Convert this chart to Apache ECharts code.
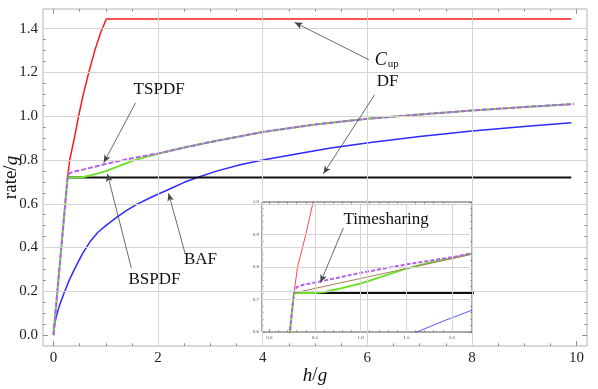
<!DOCTYPE html>
<html>
<head>
<meta charset="utf-8">
<script src="https://cdn.jsdelivr.net/npm/echarts@6/dist/echarts.min.js"></script>
<style>
  html, body { margin: 0; padding: 0; background: #fff; }
  #chart { width: 598px; height: 389px; }
</style>
</head>
<body>
<div id="chart"></div>
<script>
// curves, [h/g, rate/g]
const cupPts = [[0.27, 0.72], [0.31, 0.8], [0.4, 0.9], [0.48, 1.0], [0.57, 1.1], [0.675, 1.2], [0.79, 1.3], [0.9, 1.38], [1.01, 1.444], [9.9, 1.444]];
const bafPts = [[0, 0], [0.02, 0.045], [0.05, 0.08], [0.09, 0.115], [0.13, 0.145], [0.2, 0.19], [0.3, 0.25], [0.4, 0.3], [0.55, 0.37], [0.71, 0.43], [0.85, 0.47], [1.0, 0.5], [1.22, 0.54], [1.4, 0.57], [1.6, 0.598], [1.9, 0.633], [2.2, 0.665], [2.5, 0.698], [2.75, 0.72], [3.1, 0.748], [3.57, 0.778], [4.0, 0.8], [4.7, 0.83], [5.3, 0.855], [6.06, 0.88], [7.0, 0.907], [8.0, 0.933], [9.0, 0.953], [9.9, 0.97]];
const dfPts = [[0.27, 0.72], [9.9, 0.72]];
const bspdfPts = [[0, 0], [0.27, 0.72], [0.5, 0.72], [0.6, 0.723], [0.75, 0.732], [1.0, 0.749], [1.25, 0.772], [1.5, 0.795], [1.75, 0.813], [2.0, 0.828], [2.2, 0.84], [2.5, 0.857], [3.0, 0.882], [3.5, 0.905], [4.0, 0.928], [5.0, 0.962], [6.0, 0.988], [7.0, 1.008], [8.0, 1.026], [9.0, 1.042], [9.9, 1.055]];
const tspdfPts = [[0, 0], [0.27, 0.72], [0.3, 0.738], [0.38, 0.746], [0.5, 0.752], [0.75, 0.767], [1.0, 0.782], [1.5, 0.808], [2.0, 0.83], [2.5, 0.857], [3.0, 0.882], [3.5, 0.905], [4.0, 0.928], [5.0, 0.962], [6.0, 0.988], [7.0, 1.008], [8.0, 1.026], [9.0, 1.042], [9.95, 1.056]];
const timeshPts = [[0.27, 0.72], [2.2, 0.838]];

// ticks and grid lines
const xTicks = [0, 2, 4, 6, 8, 10];
const yTicks = [0, 0.2, 0.4, 0.6, 0.8, 1.0, 1.2, 1.4];
const xGrid = [2, 4, 6, 8];
const yGrid = [0.2, 0.4, 0.6, 0.8, 1.0, 1.2, 1.4];
const insetXTicks = [0, 0.5, 1.0, 1.5, 2.0];
const insetYTicks = [0.6, 0.7, 0.8, 0.9, 1.0];
const insetXGrid = [0.5, 1.0, 1.5, 2.0];
const insetYGrid = [0.7, 0.8, 0.9];

// annotations (data coords)
const notes = [
    { text: '{c|C}{s|up}', at: [6.37, 1.258], from: [6.03, 1.258], to: [4.61, 1.429] },
    { text: 'DF', at: [6.39, 1.157], from: [6.14, 1.098], to: [5.16, 0.737] },
    { text: 'TSPDF', at: [2.02, 1.121], from: [1.57, 1.061], to: [0.96, 0.787] },
    { text: 'BSPDF', at: [1.93, 0.252], from: [1.49, 0.305], to: [1.03, 0.737] },
    { text: 'BAF', at: [2.81, 0.343], from: [2.52, 0.37], to: [2.2, 0.648] }
];
const insetNotes = [
    { text: 'Timesharing', at: [1.28, 0.945], from: [0.81, 0.92], to: [0.56, 0.752] }
];

const serif = "'Liberation Serif', 'DejaVu Serif', serif";

function minorsOf(major, parts) {
    let out = [];
    for (let i = 0; i < major.length - 1; i++) {
        let step = (major[i + 1] - major[i]) / parts;
        for (let k = 1; k < parts; k++) out.push(+(major[i] + k * step).toFixed(4));
    }
    return out;
}

// 4 axes per side pair: labels+major, minor, opposite major, opposite minor
function tickAxes(grid, sides, min, max, major, minor, len, label) {
    let out = [];
    sides.forEach((side, i) => {
        [[major, len], [minor, len * 0.55]].forEach(([vals, l], j) => {
            out.push({
                type: 'value', gridIndex: grid, position: side, min: min, max: max,
                axisLine: { show: false, onZero: false },
                splitLine: { show: false },
                axisTick: { show: true, inside: true, length: l, customValues: vals, lineStyle: { color: '#777', width: 0.8 } },
                axisLabel: (i === 0 && j === 0) ? Object.assign({ show: true, customValues: major }, label) : { show: false }
            });
        });
    });
    return out;
}

let myChart = echarts.init(document.getElementById('chart'));

let mainLabel = { fontFamily: serif, fontSize: 15, color: '#222', margin: 5 };
let insetLabel = { fontFamily: serif, fontSize: 5, color: '#444', margin: 3, formatter: v => v.toFixed(1) };

let xAxes = tickAxes(0, ['bottom', 'top'], -0.2, 10.2, xTicks, minorsOf(xTicks, 4), 5, mainLabel)
    .concat(tickAxes(1, ['bottom', 'top'], -0.08, 2.22, insetXTicks, minorsOf(insetXTicks, 5), 3, insetLabel));
let yAxes = tickAxes(0, ['left', 'right'], -0.05, 1.49, yTicks, minorsOf(yTicks, 4), 5, Object.assign({}, mainLabel, { formatter: v => v.toFixed(1) }))
    .concat(tickAxes(1, ['left', 'right'], 0.6, 1.0, insetYTicks, minorsOf(insetYTicks, 5), 3, insetLabel));

let nameStyle = { fontFamily: serif, fontSize: 19, color: '#111', rich: { i: { fontFamily: serif, fontSize: 19, fontStyle: 'italic', color: '#111' } } };
Object.assign(xAxes[0], { name: '{i|h}/{i|g}', nameLocation: 'middle', nameGap: 20, nameMoveOverlap: false, nameTextStyle: nameStyle });
Object.assign(yAxes[0], { name: 'rate/{i|g}', nameLocation: 'middle', nameGap: 22, nameMoveOverlap: false, nameTextStyle: nameStyle });

function gridLines(xi, xs, ys) {
    return {
        type: 'line', xAxisIndex: xi, yAxisIndex: xi, data: [], silent: true, z: 1,
        markLine: {
            silent: true, symbol: ['none', 'none'], animation: false,
            label: { show: false },
            lineStyle: { color: '#d4d4d4', width: 1, type: 'solid' },
            data: xs.map(v => ({ xAxis: v })).concat(ys.map(v => ({ yAxis: v })))
        }
    };
}

function curve(xi, name, pts, color, width, dash) {
    return {
        type: 'line', name: name, xAxisIndex: xi, yAxisIndex: xi, data: pts,
        showSymbol: false, symbol: 'none', silent: true, z: 3,
        lineStyle: { color: color, width: width, type: dash || 'solid' }
    };
}

function annotations(xi, list, fontSize) {
    return {
        type: 'line', xAxisIndex: xi, yAxisIndex: xi, data: [], silent: true, z: 5,
        markLine: {
            silent: true, symbol: ['none', 'arrow'], symbolSize: [5, 8], animation: false,
            label: { show: false },
            lineStyle: { color: '#444', width: 0.8, type: 'solid' },
            data: list.map(n => [{ coord: n.from }, { coord: n.to }])
        },
        markPoint: {
            silent: true, symbol: 'circle', symbolSize: 1, animation: false,
            itemStyle: { color: 'rgba(0,0,0,0)' },
            label: {
                show: true, position: 'inside', fontFamily: serif, fontSize: fontSize, color: '#111',
                rich: {
                    c: { fontFamily: serif, fontSize: fontSize + 1, fontStyle: 'italic', color: '#111' },
                    s: { fontFamily: serif, fontSize: 11, color: '#111', padding: [9, 0, 0, 1] }
                }
            },
            data: list.map(n => ({ coord: n.at, label: { formatter: n.text } }))
        }
    };
}

let option = {
    backgroundColor: '#fff',
    animation: false,
    grid: [
        { left: 43, top: 9, width: 544, height: 337, outerBoundsMode: 'none', containLabel: false, show: true, borderColor: '#b0b0b0', borderWidth: 1, backgroundColor: 'transparent' },
        { left: 262, top: 202, width: 210, height: 130, outerBoundsMode: 'none', containLabel: false, show: true, borderColor: '#555', borderWidth: 1, backgroundColor: 'transparent' }
    ],
    xAxis: xAxes,
    yAxis: yAxes,
    series: [
        gridLines(0, xGrid, yGrid),
        curve(0, 'Cup', cupPts, '#ff1a1a', 1.5),
        curve(0, 'BAF', bafPts, '#2b2bff', 1.5),
        curve(0, 'DF', dfPts, '#111', 2),
        curve(0, 'BSPDF', bspdfPts, '#6ee02a', 2),
        curve(0, 'TSPDF', tspdfPts, '#b45ef2', 2, [5, 2]),
        annotations(0, notes, 17),

        gridLines(4, insetXGrid, insetYGrid),
        curve(4, 'Cup', cupPts, '#ff1a1a', 0.8),
        curve(4, 'BAF', bafPts, '#2b2bff', 0.8),
        curve(4, 'DF', dfPts, '#111', 1.8),
        curve(4, 'BSPDF', bspdfPts, '#6ee02a', 2),
        curve(4, 'Timesharing', timeshPts, '#a4805a', 1),
        curve(4, 'TSPDF', tspdfPts, '#b45ef2', 2, [4, 2]),
        annotations(4, insetNotes, 17)
    ]
};

myChart.setOption(option);
</script>
</body>
</html>
